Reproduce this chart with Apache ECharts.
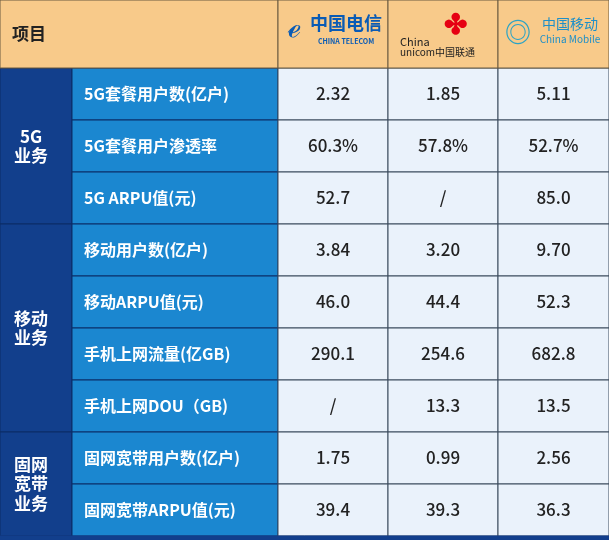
<!DOCTYPE html>
<html><head><meta charset="utf-8">
<script src="https://cdn.jsdelivr.net/npm/echarts@6/dist/echarts.min.js"></script>
<style>html,body{margin:0;padding:0;background:#fff}#c{width:609px;height:540px}</style>
</head><body><div id="c"></div>
<script>
const groups = [["5G\n业务",0,2],["移动\n业务",3,6],["固网\n宽带\n业务",7,8]];
const items = ["5G套餐用户数(亿户)","5G套餐用户渗透率","5G ARPU值(元)","移动用户数(亿户)","移动ARPU值(元)","手机上网流量(亿GB)","手机上网DOU（GB)","固网宽带用户数(亿户)","固网宽带ARPU值(元)"];
const telecom = ["2.32","60.3%","52.7","3.84","46.0","290.1","/","1.75","39.4"];
const unicom  = ["1.85","57.8%","/","3.20","44.4","254.6","13.3","0.99","39.3"];
const mobile  = ["5.11","52.7%","85.0","9.70","52.3","682.8","13.5","2.56","36.3"];
const headerLabel = "项目";

const colX = [0,72,278,388,498,609];
const headerH = 68, rowH = 52;
const F = '"Noto Sans CJK SC", "Noto Sans", sans-serif';
const cells = [];
groups.forEach(g=>cells.push({type:'group',text:g[0],r0:g[1],r1:g[2]}));
items.forEach((t,i)=>cells.push({type:'item',text:t,r:i}));
[telecom,unicom,mobile].forEach((arr,c)=>arr.forEach((v,i)=>cells.push({type:'val',text:v,r:i,c:c})));
cells.push({type:'head'});
[0,1,2].forEach(c=>cells.push({type:'logo',c:c}));
cells.push({type:'foot'});

function rr(x,y,w,h,fill,stroke){return {type:'rect',shape:{x,y,width:w,height:h},style:{fill,stroke:stroke||'#3a4a5c',lineWidth:1}};}
function tx(x,y,t,size,color,weight,align){return {type:'text',style:{x,y,text:t,fontSize:size,fill:color,fontWeight:weight||'bold',fontFamily:F,align:align||'center',verticalAlign:'middle',lineHeight:size*1.15}};}

function render(params, api){
  const d = cells[params.dataIndex];
  if(d.type==='group'){
    const y=headerH+d.r0*rowH, h=(d.r1-d.r0+1)*rowH;
    return {type:'group',children:[rr(0,y,72,h,'#123f8c','#0b2c66'),tx(31,y+h/2,d.text,17,'#fff')]};
  }
  if(d.type==='item'){
    const y=headerH+d.r*rowH;
    return {type:'group',children:[rr(72,y,206,rowH,'#1b87d0','#0b2c66'),tx(84,y+rowH/2,d.text,16,'#fff','bold','left')]};
  }
  if(d.type==='val'){
    const y=headerH+d.r*rowH, x=colX[d.c+2], w=colX[d.c+3]-x;
    return {type:'group',children:[rr(x,y,w,rowH,'#eaf2fb','#3a4a5c'),tx(x+w/2,y+rowH/2,d.text,17,'#222','500')]};
  }
  if(d.type==='head'){
    return {type:'group',children:[rr(0,0,278,headerH,'#f8ca8a','#6b5a40'),tx(12,headerH/2,headerLabel,17,'#222','bold','left')]};
  }
  if(d.type==='logo'){
    const x=colX[d.c+2], w=colX[d.c+3]-x;
    const ch=[rr(x,0,w,headerH,'#f8ca8a','#6b5a40')];
    if(d.c===0){ ch.push(tx(x+16,26,'ℯ',30,'#0a5bb5','bold','center'),tx(x+68,23,'中国电信',18,'#0a5bb5','bold'),tx(x+68,41,'CHINA TELECOM',7,'#0a5bb5','bold')); }
    if(d.c===1){ ch.push(tx(x+67,23,'✤',28,'#e60012','bold'),tx(x+12,42,'China',11,'#222','normal','left'),tx(x+12,52,'unicom中国联通',10,'#222','normal','left')); }
    if(d.c===2){ ch.push(tx(x+20,32,'◎',26,'#2aa3c6','bold'),tx(x+72,24,'中国移动',14,'#1e8fc8','normal'),tx(x+72,39,'China Mobile',10,'#1e8fc8','normal')); }
    return {type:'group',children:ch};
  }
  if(d.type==='foot'){
    return rr(0,headerH+9*rowH,609,540-headerH-9*rowH,'#123f8c','#123f8c');
  }
}
const chart = echarts.init(document.getElementById('c'));
chart.setOption({animation:false,series:[{type:'custom',coordinateSystem:'none',renderItem:render,data:cells.map((c,i)=>i)}]});
</script></body></html>
